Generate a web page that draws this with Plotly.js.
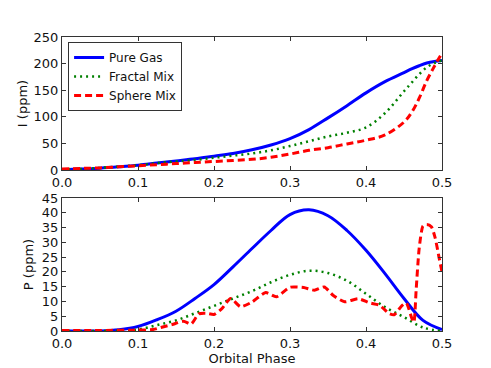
<!DOCTYPE html>
<html>
<head>
<meta charset="utf-8">
<script src="https://cdn.plot.ly/plotly-3.0.1.min.js"></script>
<style>
  html, body { margin: 0; padding: 0; background: #fff; }
  #chart { width: 491px; height: 368px; }
</style>
</head>
<body>
<div id="chart"></div>
<script>
// Intensity panel (top)
const phaseI = [0, 0.025, 0.05, 0.075, 0.1, 0.125, 0.15, 0.175, 0.2, 0.225, 0.25, 0.275,
                0.3, 0.325, 0.35, 0.375, 0.4, 0.425, 0.45, 0.46, 0.47, 0.48, 0.49, 0.5];
const pureI    = [1, 2, 3.5, 6, 9, 13, 17, 21, 26, 31, 38, 47, 59, 76, 98, 121, 145, 166, 183, 190, 196, 201, 204, 206];
const fractalI = [1, 2, 4, 6.5, 9, 13, 16, 19, 23, 27, 31, 37, 45, 54, 63, 70, 80, 107, 148, 164, 180, 193, 201, 206];
const sphereI  = [2, 3, 4, 6, 8, 10, 12, 14, 16, 18, 20, 24, 30, 37, 42, 49, 56, 66, 90, 108, 135, 168, 195, 220];

// Polarization panel (bottom)
const phaseP = [0, 0.025, 0.05, 0.075, 0.1, 0.125, 0.15, 0.175, 0.2, 0.225, 0.25,
                0.275, 0.3, 0.325, 0.35, 0.375, 0.4, 0.425, 0.45, 0.475, 0.5];
const pureP    = [0, 0, 0, 0.4, 1.5, 3.8, 6.7, 11, 15.7, 21.7, 27.9, 34, 39.4, 41, 39, 34, 27.3, 19.4, 11, 3.6, 0.5];
const fractalP = [0, 0, 0, 0.1, 0.5, 2, 3.6, 6, 8.5, 11, 13.5, 16.5, 19, 20.4, 19.6, 17, 12.6, 8.1, 4.7, 1.2, 0];

const phaseS  = [0, 0.05, 0.1, 0.12, 0.13, 0.145, 0.16, 0.17, 0.18, 0.19, 0.2, 0.21, 0.222, 0.235,
                 0.25, 0.268, 0.282, 0.3, 0.318, 0.332, 0.345, 0.357, 0.372, 0.39, 0.405, 0.418,
                 0.43, 0.437, 0.447, 0.453, 0.46, 0.463, 0.466, 0.47, 0.475, 0.48, 0.486, 0.491, 0.496, 0.5];
const sphereP = [0.2, 0.2, 0.3, 0.5, 1.2, 2.2, 3.3, 2.4, 5.8, 6, 5.6, 7.5, 11, 8.2,
                 9.8, 13, 11.6, 14.8, 14.7, 13.8, 14.9, 12, 9.9, 10.9, 9.5, 8.7,
                 6, 5.5, 8.5, 9.5, 4.5, 3, 14, 28, 35.5, 36, 35.3, 31.5, 25, 20];

const names = ['Pure Gas', 'Fractal Mix', 'Sphere Mix'];
const blue = '#0000ff', green = '#008000', red = '#ff0000';

const traces = [
  { x: phaseI, y: pureI, name: names[0], xaxis: 'x', yaxis: 'y', mode: 'lines',
    line: { color: blue, width: 3, shape: 'spline' } },
  { x: phaseI, y: fractalI, name: names[1], xaxis: 'x', yaxis: 'y', mode: 'lines',
    line: { color: green, width: 2.5, dash: '2px,4px', shape: 'spline' } },
  { x: phaseI, y: sphereI, name: names[2], xaxis: 'x', yaxis: 'y', mode: 'lines',
    line: { color: red, width: 3, dash: '7px,4px', shape: 'spline' } },
  { x: phaseP, y: pureP, name: names[0], xaxis: 'x2', yaxis: 'y2', mode: 'lines', showlegend: false,
    line: { color: blue, width: 3, shape: 'spline' } },
  { x: phaseP, y: fractalP, name: names[1], xaxis: 'x2', yaxis: 'y2', mode: 'lines', showlegend: false,
    line: { color: green, width: 2.5, dash: '2px,4px', shape: 'spline' } },
  { x: phaseS, y: sphereP, name: names[2], xaxis: 'x2', yaxis: 'y2', mode: 'lines', showlegend: false,
    line: { color: red, width: 3, dash: '7px,4px', shape: 'spline', smoothing: 0.6 } }
];

const axisStyle = {
  showline: true, linecolor: '#333', linewidth: 1, mirror: 'ticks',
  ticks: 'inside', ticklen: 4, tickcolor: '#333',
  showgrid: false, zeroline: false
};
const titleFont = { size: 13, color: '#111' };

const layout = {
  width: 491, height: 368,
  margin: { l: 62, r: 49, t: 37, b: 37 },
  paper_bgcolor: '#fff', plot_bgcolor: '#fff',
  font: { family: 'DejaVu Sans', size: 13, color: '#111' },
  showlegend: true,
  legend: {
    x: 0.016, y: 0.983, xanchor: 'left', yanchor: 'top',
    bordercolor: '#333', borderwidth: 1, bgcolor: '#fff',
    font: { size: 12 }, tracegroupgap: 0
  },
  xaxis: Object.assign({}, axisStyle, {
    anchor: 'y', domain: [0, 1], range: [0, 0.5], dtick: 0.1, tickformat: '.1f'
  }),
  yaxis: Object.assign({}, axisStyle, {
    anchor: 'x', domain: [0.5476, 1], range: [0, 250], dtick: 50,
    title: { text: 'I (ppm)', font: titleFont, standoff: 3 }
  }),
  xaxis2: Object.assign({}, axisStyle, {
    anchor: 'y2', domain: [0, 1], range: [0, 0.5], dtick: 0.1, tickformat: '.1f',
    title: { text: 'Orbital Phase', font: titleFont, standoff: 4 }
  }),
  yaxis2: Object.assign({}, axisStyle, {
    anchor: 'x2', domain: [0, 0.4524], range: [0, 45], dtick: 5,
    title: { text: 'P (ppm)', font: titleFont, standoff: 5 }
  })
};

Plotly.newPlot('chart', traces, layout, { displayModeBar: false, staticPlot: true });
</script>
</body>
</html>
